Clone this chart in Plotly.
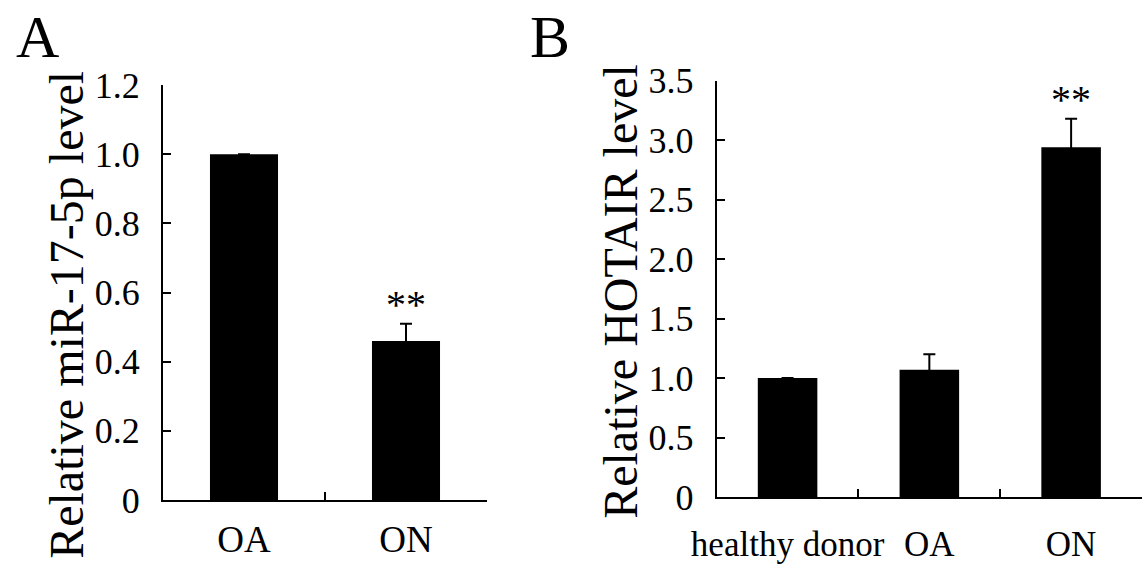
import plotly.graph_objects as go

# Panel A data
cats_a = ["OA", "ON"]
vals_a = [1.0, 0.46]
err_a = [0.0, 0.05]
sig_a = ["", "**"]
yticks_a = [0, 0.2, 0.4, 0.6, 0.8, 1.0, 1.2]
yticktext_a = ["0", "0.2", "0.4", "0.6", "0.8", "1.0", "1.2"]
ytitle_a = "Relative miR-17-5p level"

# Panel B data
cats_b = ["healthy donor", "OA", "ON"]
vals_b = [1.0, 1.07, 2.94]
err_b = [0.0, 0.13, 0.24]
sig_b = ["", "", "**"]
yticks_b = [0, 0.5, 1.0, 1.5, 2.0, 2.5, 3.0, 3.5]
yticktext_b = ["0", "0.5", "1.0", "1.5", "2.0", "2.5", "3.0", "3.5"]
ytitle_b = "Relative HOTAIR level"

FONT = "Liberation Serif, Times New Roman, serif"
W, H = 1147, 564

fig = go.Figure()

fig.add_trace(go.Bar(
    x=cats_a, y=vals_a, xaxis="x", yaxis="y",
    marker=dict(color="black", line=dict(width=0)),
    error_y=dict(type="data", array=err_a, visible=True, color="black", thickness=2, width=6),
    showlegend=False,
))
fig.add_trace(go.Bar(
    x=cats_b, y=vals_b, xaxis="x2", yaxis="y2",
    marker=dict(color="black", line=dict(width=0)),
    error_y=dict(type="data", array=err_b, visible=True, color="black", thickness=2, width=6),
    showlegend=False,
))

axis_common = dict(
    showline=True, linecolor="black", linewidth=2,
    ticks="inside", ticklen=8, tickwidth=2, tickcolor="black",
    showgrid=False, zeroline=False, mirror=False, automargin=False,
)

fig.update_layout(
    width=W, height=H,
    margin=dict(l=0, r=0, t=0, b=0),
    paper_bgcolor="white", plot_bgcolor="white",
    bargap=0.58,
    font=dict(family=FONT, color="black"),
    xaxis=dict(domain=[163 / W, 487 / W], anchor="y", type="category",
               tickson="boundaries", tickfont=dict(size=37, family=FONT), tickangle=0,
               ticklabelstandoff=6, **axis_common),
    yaxis=dict(domain=[(H - 500) / H, (H - 85) / H], anchor="x", range=[0, 1.2],
               tickvals=yticks_a, ticktext=yticktext_a,
               tickfont=dict(size=36, family=FONT), ticklabelstandoff=14, **axis_common),
    xaxis2=dict(domain=[716.7 / W, 1142 / W], anchor="y2", type="category",
                tickson="boundaries", tickfont=dict(size=35, family=FONT), tickangle=0,
                ticklabelstandoff=15, **axis_common),
    yaxis2=dict(domain=[(H - 497) / H, (H - 80.7) / H], anchor="x2", range=[0, 3.5],
                tickvals=yticks_b, ticktext=yticktext_b,
                tickfont=dict(size=36, family=FONT), ticklabelstandoff=14, **axis_common),
)

annotations = []
# significance markers
for c, v, e, s in zip(cats_a, vals_a, err_a, sig_a):
    if s:
        annotations.append(dict(x=c, y=v + e, xref="x", yref="y", text=s, showarrow=False,
                                yanchor="bottom", yshift=-5, font=dict(size=40, family=FONT)))
for c, v, e, s in zip(cats_b, vals_b, err_b, sig_b):
    if s:
        annotations.append(dict(x=c, y=v + e, xref="x2", yref="y2", text=s, showarrow=False,
                                yanchor="bottom", yshift=-5, font=dict(size=40, family=FONT)))
# axis titles
annotations.append(dict(x=65.8 / W, y=(H - 315) / H, xref="paper", yref="paper", text=ytitle_a,
                        textangle=-90, showarrow=False, xanchor="center", yanchor="middle",
                        font=dict(size=48, family=FONT)))
annotations.append(dict(x=619.8 / W, y=(H - 291) / H, xref="paper", yref="paper", text=ytitle_b,
                        textangle=-90, showarrow=False, xanchor="center", yanchor="middle",
                        font=dict(size=48, family=FONT)))
# panel letters
annotations.append(dict(x=37 / W, y=(H - 37) / H, xref="paper", yref="paper", text="A",
                        showarrow=False, xanchor="center", yanchor="middle",
                        font=dict(size=60, family=FONT)))
annotations.append(dict(x=550 / W, y=(H - 37) / H, xref="paper", yref="paper", text="B",
                        showarrow=False, xanchor="center", yanchor="middle",
                        font=dict(size=60, family=FONT)))
fig.update_layout(annotations=annotations)

fig.write_html("out.html", config={"displayModeBar": False},
               post_script="document.body.style.margin='0';")
